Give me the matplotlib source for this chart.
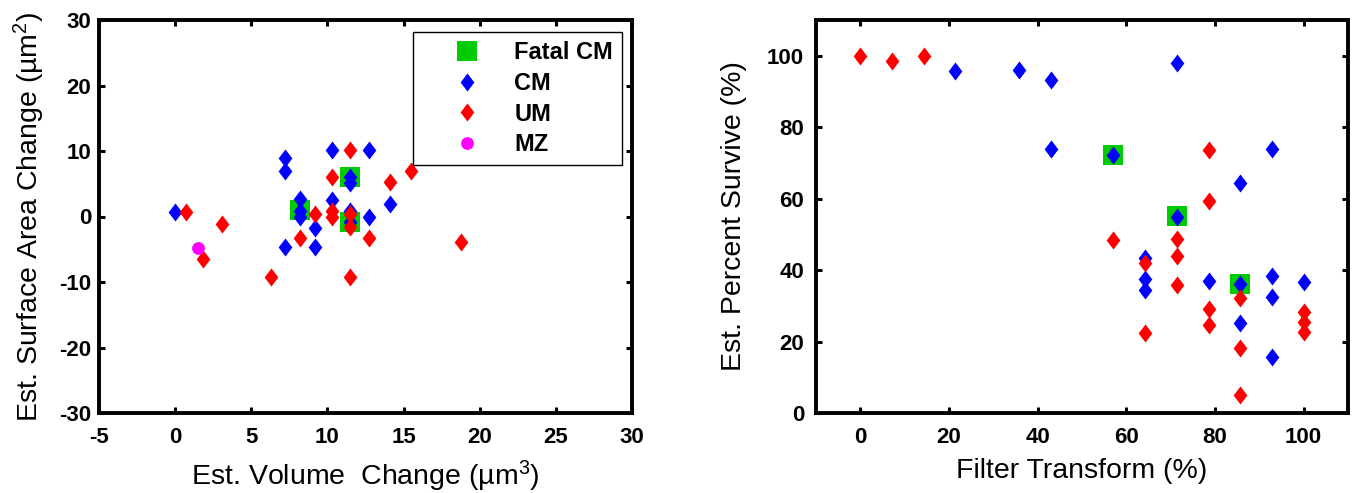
import matplotlib
matplotlib.use('Agg')
import matplotlib.pyplot as plt

# ---------------- data: left panel (volume vs surface area change) ----------------
fatal_vol = [8.2, 11.5, 11.5]
fatal_area = [1.0, 6.0, -0.9]

cm_vol = [0.0, 7.2, 7.2, 7.2, 8.2, 8.2, 8.2, 9.2, 9.2, 10.3, 10.3,
          11.5, 11.5, 11.5, 11.5, 12.7, 12.7, 14.1]
cm_area = [0.7, 9.0, 6.9, -4.7, 2.6, 0.9, -0.1, -1.8, -4.7, 10.1, 2.5,
           6.0, 5.1, 0.9, -0.9, 10.1, 0.0, 1.9]

um_vol = [0.7, 3.1, 1.8, 6.3, 8.2, 9.2, 10.3, 10.3, 10.3, 11.5, 11.5,
          11.5, 11.5, 12.7, 14.1, 15.5, 18.8]
um_area = [0.7, -1.2, -6.5, -9.3, -3.3, 0.4, 6.0, 0.9, -0.1, 10.1, 0.4,
           -1.6, -9.3, -3.3, 5.2, 6.9, -3.9]

mz_vol = [1.5]
mz_area = [-4.8]

# ---------------- data: right panel (filter transform vs survival) ----------------
fatal_ft = [57.1, 71.4, 85.7]
fatal_surv = [72.1, 55.1, 36.1]

cm_ft = [21.4, 35.7, 42.9, 42.9, 57.1, 64.3, 64.3, 64.3, 71.4, 71.4,
         78.6, 85.7, 85.7, 85.7, 92.9, 92.9, 92.9, 92.9, 100.0]
cm_surv = [95.8, 96.0, 93.3, 73.8, 72.1, 43.3, 37.4, 34.4, 97.9, 54.9,
           36.9, 64.5, 36.0, 25.1, 73.8, 38.3, 32.6, 15.8, 36.7]

um_ft = [0.0, 7.1, 14.3, 57.1, 64.3, 64.3, 71.4, 71.4, 71.4, 78.6,
         78.6, 78.6, 78.6, 85.7, 85.7, 85.7, 100.0, 100.0, 100.0]
um_surv = [100.0, 98.6, 100.0, 48.4, 41.9, 22.5, 48.8, 44.0, 35.8, 73.5,
           59.3, 29.2, 24.7, 32.3, 18.1, 4.9, 28.4, 25.6, 22.8]

# ---------------- ticks / labels ----------------
left_xticks = [-5, 0, 5, 10, 15, 20, 25, 30]
left_yticks = [-30, -20, -10, 0, 10, 20, 30]
right_xticks = [0, 20, 40, 60, 80, 100]
right_yticks = [0, 20, 40, 60, 80, 100]
legend_labels = ['Fatal CM', 'CM', 'UM', 'MZ']

# ---------------- style ----------------
plt.rcParams['font.family'] = ['Liberation Sans', 'DejaVu Sans']
plt.rcParams['mathtext.fontset'] = 'custom'
plt.rcParams['mathtext.rm'] = 'Liberation Sans'
plt.rcParams['mathtext.default'] = 'regular'

GREEN = '#00CC00'
BLUE = '#0000FF'
RED = '#FF0000'
MAGENTA = '#FF00FF'
diamond = [(0, 1), (0.76, 0), (0, -1), (-0.76, 0), (0, 1)]
DMS = 13.0   # diamond size (pt)
SMS = 15.0   # square size (pt)
CMS = 9.2    # circle size (pt)

W, H = 1357, 493
fig = plt.figure(figsize=(W / 100, H / 100), dpi=100)


def px_axes(l, r, t, b):
    return fig.add_axes([l / W, (H - b) / H, (r - l) / W, (b - t) / H])


ax1 = px_axes(99, 632, 20, 413)
ax2 = px_axes(816, 1348, 20, 413)


def draw(ax, fx, fy, cx, cy, ux, uy, mx=None, my=None):
    ax.plot(fx, fy, linestyle='none', marker='s', ms=SMS, mfc=GREEN,
            mec=GREEN, mew=0, label=legend_labels[0])
    ax.plot(cx, cy, linestyle='none', marker=diamond, ms=DMS, mfc=BLUE,
            mec=BLUE, mew=0, label=legend_labels[1])
    ax.plot(ux, uy, linestyle='none', marker=diamond, ms=DMS, mfc=RED,
            mec=RED, mew=0, label=legend_labels[2])
    if mx is not None:
        ax.plot(mx, my, linestyle='none', marker='o', ms=CMS, mfc=MAGENTA,
                mec=MAGENTA, mew=0, label=legend_labels[3])


draw(ax1, fatal_vol, fatal_area, cm_vol, cm_area, um_vol, um_area, mz_vol, mz_area)
draw(ax2, fatal_ft, fatal_surv, cm_ft, cm_surv, um_ft, um_surv)

ax1.set_xlim(-5, 30)
ax1.set_ylim(-30, 30)
ax2.set_xlim(-10, 110)
ax2.set_ylim(0, 110)

TS = 16
ax1.set_xticks(left_xticks)
ax1.set_xticklabels([str(t) for t in left_xticks], fontweight='bold', fontsize=TS)
ax1.set_yticks(left_yticks)
ax1.set_yticklabels([str(t) for t in left_yticks], fontweight='bold', fontsize=TS)
ax2.set_xticks(right_xticks)
ax2.set_xticklabels([str(t) for t in right_xticks], fontweight='bold', fontsize=TS)
ax2.set_yticks(right_yticks)
ax2.set_yticklabels([str(t) for t in right_yticks], fontweight='bold', fontsize=TS)

for ax, ypad in ((ax1, 5.5), (ax2, 8.5)):
    for s in ax.spines.values():
        s.set_linewidth(2.8)
    ax.tick_params(axis='both', which='major', direction='in', length=4.5,
                   width=2.2, top=True, right=True)
    ax.tick_params(axis='x', pad=10.0)
    ax.tick_params(axis='y', pad=ypad)

lab_size = 20.5
ax1.set_xlabel('Est. Volume  Change (\u00b5m$^3$)', fontsize=lab_size)
ax1.set_ylabel('Est. Surface Area Change (\u00b5m$^2$)', fontsize=lab_size)
ax2.set_xlabel('Filter Transform (%)', fontsize=lab_size)
ax2.set_ylabel('Est. Percent Survive (%)', fontsize=lab_size)

for ax, xl_y, yl_x in ((ax1, (413 - 485) / 393, (38 - 99) / 533),
                       (ax2, (413 - 478) / 393, (741 - 816) / 532)):
    ax.xaxis.label.set_va('baseline')
    ax.yaxis.label.set_va('baseline')
    ax.xaxis.set_label_coords(0.5, xl_y)
    ax.yaxis.set_label_coords(yl_x, 0.5)

leg = ax1.legend(loc='upper right', bbox_to_anchor=(622 / W, (H - 32) / H),
                 bbox_transform=fig.transFigure, borderaxespad=0,
                 prop={'weight': 'bold', 'size': 17}, frameon=True,
                 fancybox=False, edgecolor='black', framealpha=1, numpoints=1,
                 handlelength=3.8, handletextpad=0.1, labelspacing=0.33,
                 borderpad=0.38)
leg.get_frame().set_linewidth(1.0)

fig.savefig('out.png', dpi=100)
